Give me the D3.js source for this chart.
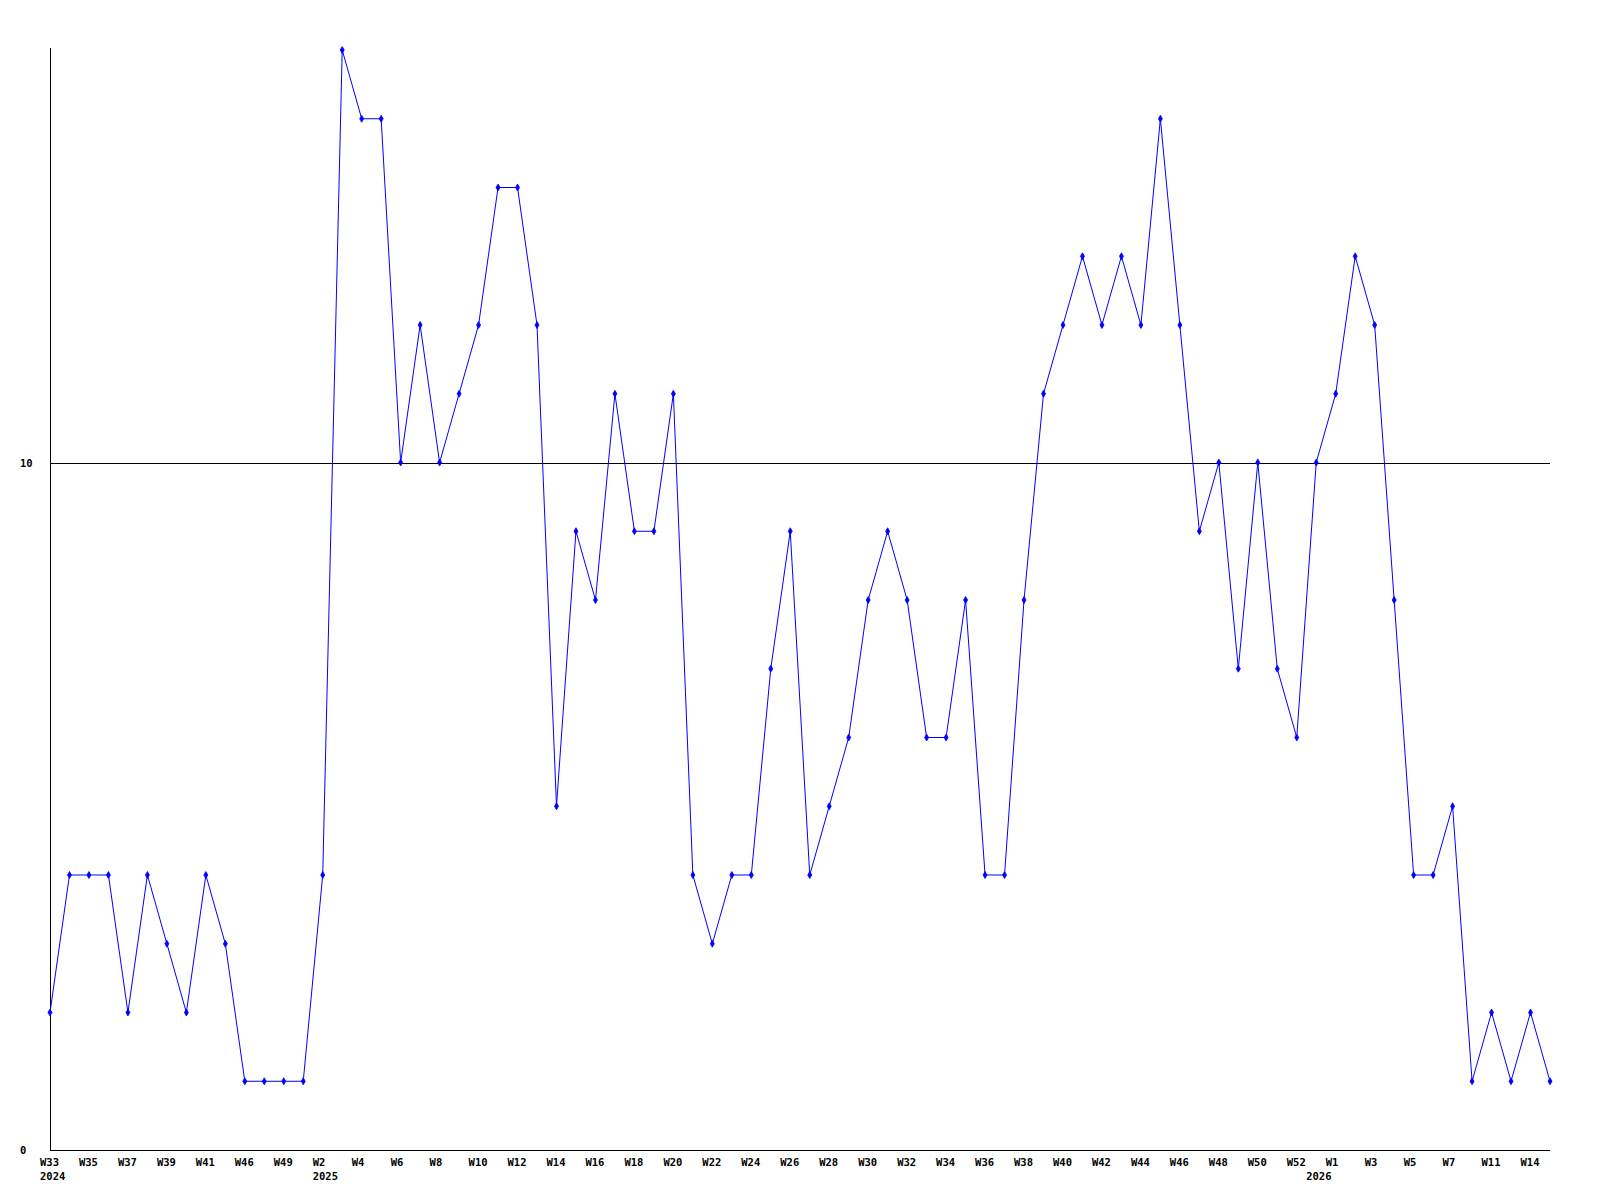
<!DOCTYPE html>
<html>
<head>
<meta charset="utf-8">
<script src="https://cdn.jsdelivr.net/npm/d3@7/dist/d3.min.js"></script>
<style>
  html, body { margin: 0; padding: 0; background: #ffffff; }
  svg { display: block; }
  text { font-family: "DejaVu Sans Mono", "Liberation Mono", monospace; font-weight: bold; font-size: 10.5px; fill: #000; }
</style>
</head>
<body>
<svg id="chart" width="1600" height="1200"></svg>
<script>
// ---- data ----
const weeks = ["W33","W34","W35","W36","W37","W38","W39","W40","W41","W42",
  "W46","W47","W49","W51",
  "W2","W3","W4","W5","W6","W7","W8","W9","W10","W11","W12","W13","W14","W15","W16","W17",
  "W18","W19","W20","W21","W22","W23","W24","W25","W26","W27","W28","W29","W30","W31",
  "W32","W33","W34","W35","W36","W37","W38","W39","W40","W41","W42","W43","W44","W45",
  "W46","W47","W48","W49","W50","W51","W52","W53",
  "W1","W2","W3","W4","W5","W6","W7","W9","W11","W12","W14","W15"];
const years = {0: "2024", 14: "2025", 65: "2026"};
const values = [2,4,4,4,2,4,3,2,4,3,
  1,1,1,1,
  4,16,15,15,10,12,10,11,12,14,14,12,5,9,8,11,
  9,9,11,4,3,4,4,7,9,4,5,6,8,9,
  8,6,6,8,4,4,8,11,12,13,12,13,12,15,
  12,9,10,7,10,7,6,10,
  11,13,12,8,4,4,5,1,2,1,2,1];
const yTicks = [0, 10];
const refLine = 10;

// ---- layout ----
const svg = d3.select("#chart");
const pLeft = 50, pRight = 1550, pTop = 50, pBottom = 1150;

const idx = values.map((_, i) => i);
const x = d3.scalePoint().domain(idx).range([pLeft, pRight]);
const y = d3.scaleLinear().domain([0, 16]).range([pBottom, pTop]);

// reference line at 10
svg.append("line")
  .attr("x1", pLeft).attr("x2", pRight)
  .attr("y1", Math.round(y(refLine)) + 0.5).attr("y2", Math.round(y(refLine)) + 0.5)
  .attr("stroke", "#000").attr("stroke-width", 1).attr("shape-rendering", "crispEdges");

// axes
svg.append("line")
  .attr("x1", pLeft + 0.5).attr("x2", pLeft + 0.5)
  .attr("y1", pTop - 2).attr("y2", pBottom + 0.5)
  .attr("stroke", "#000").attr("shape-rendering", "crispEdges");
svg.append("line")
  .attr("x1", pLeft).attr("x2", pRight)
  .attr("y1", pBottom + 0.5).attr("y2", pBottom + 0.5)
  .attr("stroke", "#000").attr("shape-rendering", "crispEdges");

// y tick labels
svg.selectAll(".ylab").data(yTicks).enter().append("text")
  .attr("class", "ylab")
  .attr("x", 20)
  .attr("y", d => y(d) + 4)
  .text(d => d);

// x tick labels (every second point)
const shown = idx.filter(i => i % 2 === 0);
svg.selectAll(".xlab").data(shown).enter().append("text")
  .attr("class", "xlab")
  .attr("x", d => x(d) - 10)
  .attr("y", 1166)
  .text(d => weeks[d]);
svg.selectAll(".yrlab").data(Object.keys(years).map(Number)).enter().append("text")
  .attr("class", "yrlab")
  .attr("x", d => x(d) - 10)
  .attr("y", 1180)
  .text(d => years[d]);

// series line
const line = d3.line().x((d, i) => x(i)).y(d => y(d));
svg.append("path")
  .datum(values)
  .attr("d", line)
  .attr("fill", "none")
  .attr("stroke", "#0000ff")
  .attr("stroke-width", 1);

// markers
const sym = d3.symbol().type(d3.symbolDiamond).size(14);
svg.selectAll(".pt").data(values).enter().append("path")
  .attr("class", "pt")
  .attr("transform", (d, i) => `translate(${x(i)},${y(d)})`)
  .attr("d", sym)
  .attr("fill", "#0000ff")
  .attr("stroke", "#0000ff")
  .attr("stroke-width", 0.8);
</script>
</body>
</html>
